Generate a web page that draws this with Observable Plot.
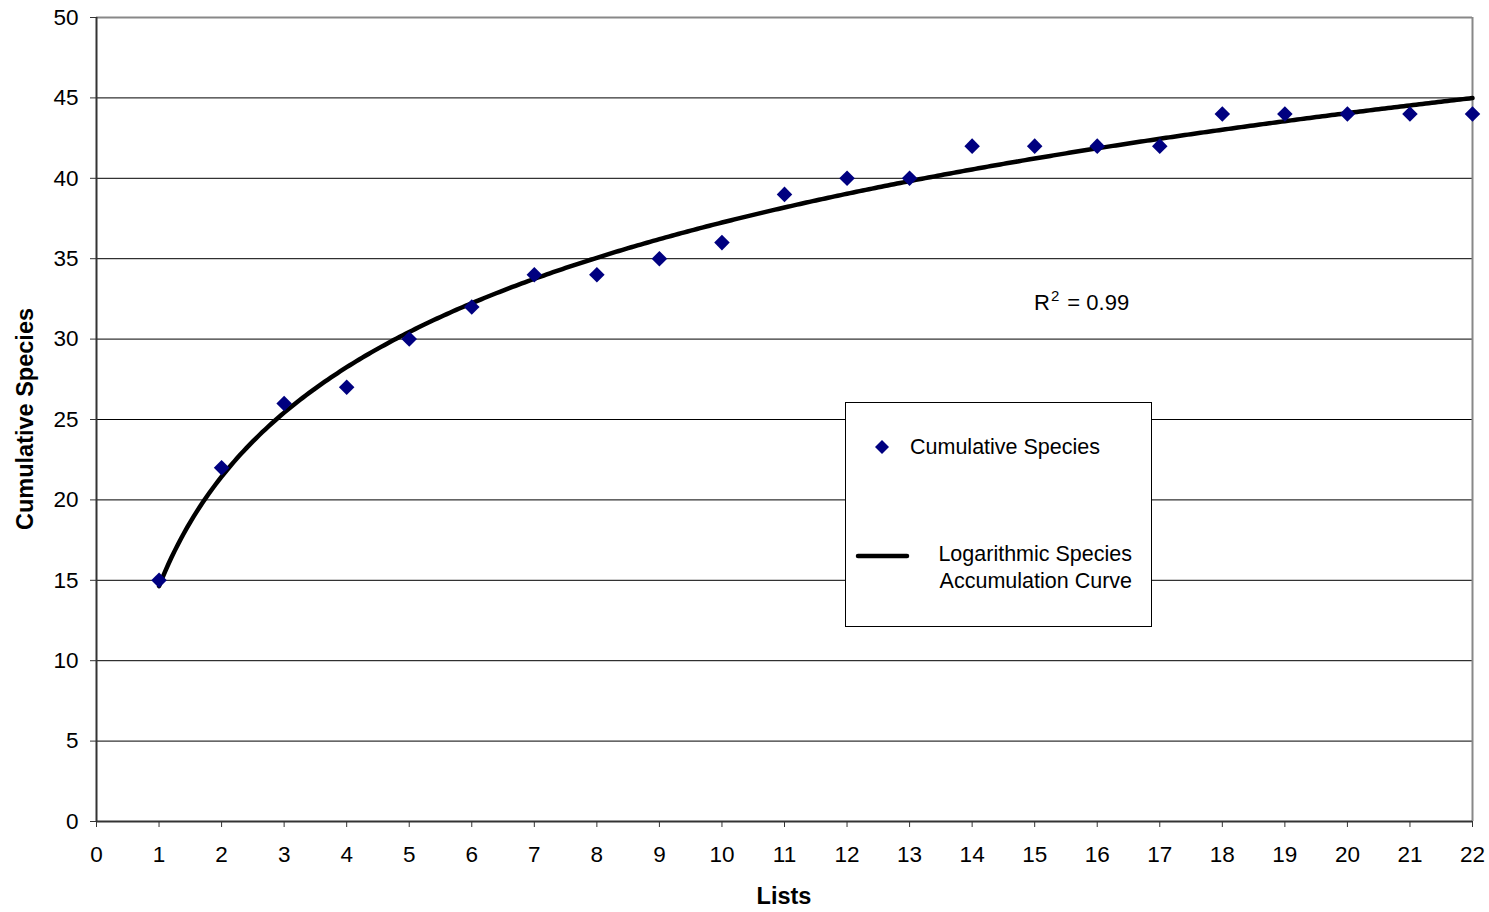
<!DOCTYPE html>
<html>
<head>
<meta charset="utf-8">
<script src="https://cdn.jsdelivr.net/npm/d3@7"></script>
<script src="https://cdn.jsdelivr.net/npm/@observablehq/plot@0.6"></script>
<style>
  html, body { margin: 0; padding: 0; background: #fff; }
  #wrap { position: relative; width: 1489px; height: 912px; font-family: "Liberation Sans", Arial, sans-serif; }
  #legend { position: absolute; left: 845px; top: 402px; width: 307px; height: 225px; border: 1px solid #000; background: #fff; box-sizing: border-box; }
  .lt { position: absolute; font-size: 21.5px; color: #000; white-space: nowrap; line-height: 1; }
  #r2 { position: absolute; left: 1034px; top: 292px; font-size: 22px; line-height: 1; white-space: nowrap; }
</style>
</head>
<body>
<div id="wrap"></div>
<script>
const lists = [1,2,3,4,5,6,7,8,9,10,11,12,13,14,15,16,17,18,19,20,21,22];
const species = [15,22,26,27,30,32,34,34,35,36,39,40,40,42,42,42,42,44,44,44,44,44];
const xTicks = d3.range(0, 23);
const yTicks = [0,5,10,15,20,25,30,35,40,45,50];
const gridY = [5,10,15,20,25,30,35,40,45];

const data = lists.map((l, i) => ({lists: l, species: species[i]}));

// least-squares logarithmic fit y = a ln(x) + b, computed from the data
const lx = lists.map(Math.log);
const mx = d3.mean(lx), my = d3.mean(species);
const a = d3.sum(lx.map((v, i) => (v - mx) * (species[i] - my))) / d3.sum(lx.map(v => (v - mx) ** 2));
const b = my - a * mx;
const curve = d3.range(1, 22.001, 0.05).map(x => ({lists: x, species: a * Math.log(x) + b}));

const chart = Plot.plot({
  width: 1489,
  height: 912,
  marginLeft: 96,
  marginRight: 17,
  marginTop: 17,
  marginBottom: 91,
  style: {fontFamily: '"Liberation Sans", Arial, sans-serif', fontSize: "22.5px", color: "#000", background: "#fff"},
  x: {domain: [0, 22], label: null},
  y: {domain: [0, 50], label: null},
  marks: [
    Plot.ruleY(gridY, {stroke: "#000", strokeWidth: 1}),
    Plot.ruleY([50], {stroke: "#888", strokeWidth: 2}),
    Plot.ruleX([22], {stroke: "#888", strokeWidth: 2}),
    Plot.ruleX([0], {stroke: "#333", strokeWidth: 2}),
    Plot.ruleY([0], {stroke: "#333", strokeWidth: 2}),
    Plot.line(curve, {x: "lists", y: "species", stroke: "#000", strokeWidth: 4.5, curve: "linear"}),
    Plot.dot(data, {x: "lists", y: "species", symbol: "diamond2", r: 7, fill: "#000080", stroke: "none"}),
    Plot.axisX({ticks: xTicks, tickSize: 6, tickPadding: 19, tickFormat: d3.format("d"), label: null, stroke: "#333"}),
    Plot.axisY({ticks: yTicks, tickSize: 6, tickPadding: 12, tickFormat: d3.format("d"), label: null, stroke: "#333"})
  ]
});

const wrap = document.getElementById("wrap");
wrap.appendChild(chart);

// axis titles (bold)
const svg = d3.select(chart);
svg.append("text").attr("x", 784).attr("y", 904).attr("text-anchor", "middle")
  .style("font-weight", "bold").style("font-size", "23.5px").text("Lists");
svg.append("text").attr("transform", "translate(33,419) rotate(-90)").attr("text-anchor", "middle")
  .style("font-weight", "bold").style("font-size", "23.5px").text("Cumulative Species");

// R² label
const r2 = document.createElement("div");
r2.id = "r2";
r2.innerHTML = 'R<sup style="font-size:15px;vertical-align:9px;line-height:0;margin-left:1px;margin-right:2px">2</sup> = 0.99';
wrap.appendChild(r2);

// legend
const legend = document.createElement("div");
legend.id = "legend";
legend.innerHTML = `
  <svg style="position:absolute;left:0;top:0" width="307" height="225">
    <path d="M36,37 L43,44 L36,51 L29,44 Z" fill="#000080"/>
    <line x1="12" y1="153" x2="61" y2="153" stroke="#000" stroke-width="4.5" stroke-linecap="round"/>
  </svg>
  <div class="lt" style="left:64px;top:34px">Cumulative Species</div>
  <div class="lt" style="right:19px;top:141px;text-align:right">Logarithmic Species</div>
  <div class="lt" style="right:19px;top:168px;text-align:right">Accumulation Curve</div>`;
wrap.appendChild(legend);
</script>
</body>
</html>
